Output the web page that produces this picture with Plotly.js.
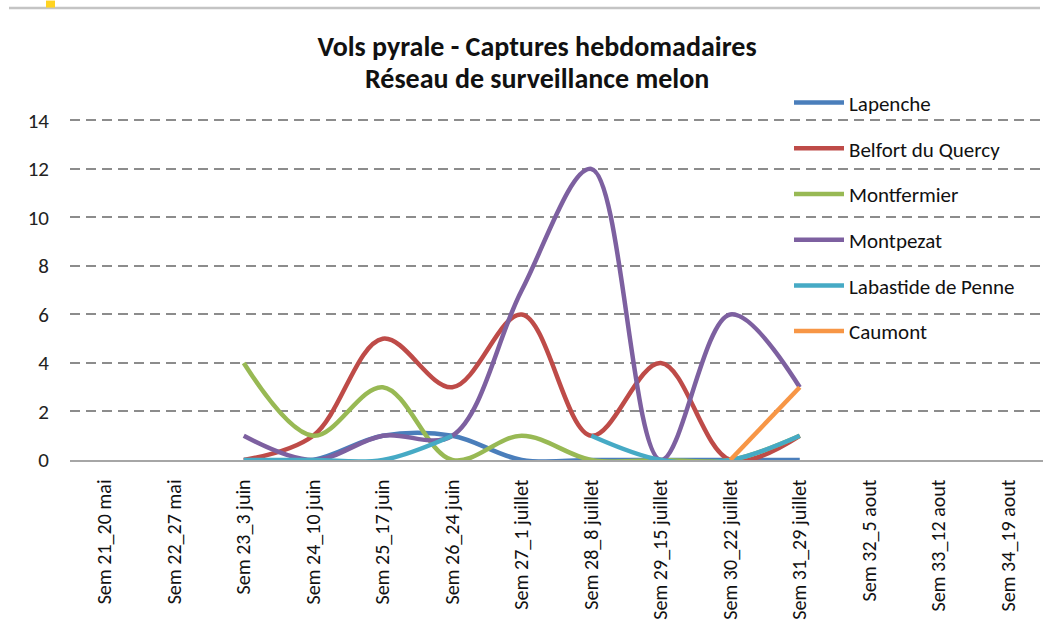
<!DOCTYPE html>
<html>
<head>
<meta charset="utf-8">
<script src="https://cdn.plot.ly/plotly-3.0.1.min.js"></script>
<style>html,body{margin:0;padding:0;background:#fff;}#chart{width:1057px;height:622px;}</style>
</head>
<body>
<div id="chart"></div>
<script>
const weeks = ["Sem 21_20 mai","Sem 22_27 mai","Sem 23_3 juin","Sem 24_10 juin","Sem 25_17 juin","Sem 26_24 juin","Sem 27_1 juillet","Sem 28_8 juillet","Sem 29_15 juillet","Sem 30_22 juillet","Sem 31_29 juillet","Sem 32_5 aout","Sem 33_12 aout","Sem 34_19 aout"];
const seriesNames = ["Lapenche","Belfort du Quercy","Montfermier","Montpezat","Labastide de Penne","Caumont"];
const lapenche   = [null,null,0,0,1,1,0,0,0,0,0,null,null,null];
const belfort    = [null,null,0,1,5,3,6,1,4,0,1,null,null,null];
const montfermier= [null,null,4,1,3,0,1,0,0,0,1,null,null,null];
const montpezat  = [null,null,1,0,1,1,7,12,0,6,3,null,null,null];
const labastide  = [null,null,0,0,0,1,null,1,0,0,1,null,null,null];
const caumont    = [null,null,null,null,null,null,null,null,null,0,3,null,null,null];
const yTicks = [0,2,4,6,8,10,12,14];
const titleLine1 = "Vols pyrale - Captures hebdomadaires";
const titleLine2 = "Réseau de surveillance melon";

const colors = ["#4A7EBB","#BE4B48","#98B954","#7D60A0","#46AAC5","#F79646"];
const seriesData = [lapenche,belfort,montfermier,montpezat,labastide,caumont];
const font = "Carlito, Calibri, Roboto, 'Noto Sans', sans-serif";

const traces = seriesData.map((vals,i)=>({
  type:'scatter', mode:'lines', name:seriesNames[i],
  x: weeks, y: vals,
  line:{color:colors[i], width:4.5, shape:'spline', smoothing:1},
  legendgroup:'g'+i, hoverinfo:'x+y+name'
}));

const W=1057, L=70, R=1043, B=460;
const YMAX = 14.1;
const T = B - 340*YMAX/14;
const px = v => (v-L)/(R-L);
const py = v => (B-v)/(B-T);

const layout = {
  width:1057, height:622,
  paper_bgcolor:'#ffffff', plot_bgcolor:'rgba(0,0,0,0)',
  margin:{l:L, r:W-R, t:T, b:622-B, pad:0},
  font:{family:font, size:20, color:'#222222'},
  title:{text:'<b>'+titleLine1+'</b>',
    font:{family:font, size:28, color:'#111111'}, x:537/1057, xref:'container', xanchor:'center',
    y:1-46/622, yref:'container', yanchor:'middle'},
  annotations:[
    {text:'<b>'+titleLine2+'</b>', xref:'paper', yref:'paper', x:px(537), y:py(78), xanchor:'center', yanchor:'middle',
     showarrow:false, font:{family:font, size:28, color:'#111111'}}
  ],
  xaxis:{type:'category', categoryorder:'array', categoryarray:weeks, range:[-0.5,13.5],
    tickangle:-90, showgrid:false, zeroline:false, showline:true, linecolor:'#a6a6a6', linewidth:1.5,
    ticks:'', ticklabelstandoff:10, tickfont:{size:20, color:'#111'}, fixedrange:true},
  yaxis:{range:[0,YMAX], tickvals:yTicks, showgrid:true, gridcolor:'#8c8c8c', gridwidth:2, griddash:'10px,6px',
    zeroline:false, showline:false, ticks:'', ticklabelstandoff:20, tickfont:{size:21, color:'#222'}, fixedrange:true},
  legend:{x:px(789), y:py(82), xanchor:'left', yanchor:'top', bgcolor:'rgba(0,0,0,0)',
    font:{size:21, color:'#111'}, tracegroupgap:15.4, itemwidth:50},
  showlegend:true,
  shapes:[
    {type:'line', layer:'above', xref:'paper', yref:'paper', x0:px(9), x1:px(1040), y0:py(7.5), y1:py(7.5), line:{color:'#c4c4c4', width:2.5}},
    {type:'rect', xref:'paper', yref:'paper', x0:px(46), x1:px(55), y0:py(7), y1:py(0), fillcolor:'#FFD321', line:{width:0}}
  ]
};
Plotly.newPlot('chart', traces, layout, {displayModeBar:false, staticPlot:true});
</script>
</body>
</html>
